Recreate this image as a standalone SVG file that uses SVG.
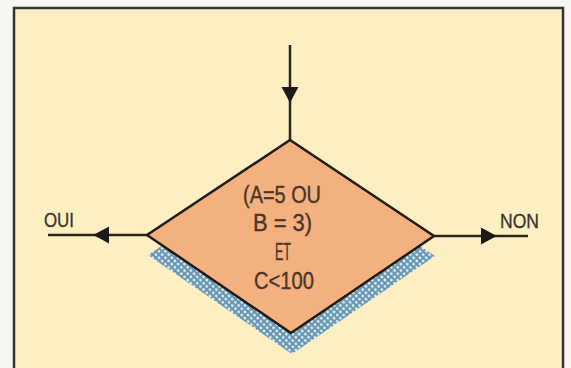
<svg xmlns="http://www.w3.org/2000/svg" width="571" height="368" viewBox="0 0 571 368">
  <style>
    .line { fill: none; stroke: #2a2420; stroke-width: 2.5; }
    .txt { font-family: "Liberation Sans", Arial, sans-serif; fill: #4a3426; stroke: #4a3426; stroke-width: 0.35; }
    .cond { font-size: 23px; }
    .lbl { font-size: 21px; fill: #3a3430; stroke: #3a3430; }
  </style>
  <defs>
    <pattern id="mesh" patternUnits="userSpaceOnUse" width="4.5" height="4.5" patternTransform="rotate(45)">
      <rect width="4.5" height="4.5" fill="#6596b6"/>
      <circle cx="2.25" cy="2.25" r="1.45" fill="#e6efea"/>
    </pattern>
    <marker id="head" markerUnits="userSpaceOnUse" markerWidth="18" markerHeight="18" refX="16" refY="8.5" orient="auto">
      <path d="M0,0 Q9,5 16,8.5 Q9,12 0,17 Z" fill="#1e1a18"/>
    </marker>
  </defs>

  <rect x="0" y="0" width="571" height="368" fill="#f7f6f1"/>
  <rect id="frame" x="14" y="8" width="549" height="372" fill="#fcf0c2" stroke="#333" stroke-width="2.5"/>

  <g id="connectors">
    <path class="line" d="M290,45 L290,103 L290,140" marker-mid="url(#head)"/>
    <path class="line" d="M147,235 L93,235 L48,235" marker-mid="url(#head)"/>
    <path class="line" d="M434,236 L497,236 L528,236" marker-mid="url(#head)"/>
    <text class="txt lbl" x="44" y="227" textLength="30" lengthAdjust="spacingAndGlyphs">OUI</text>
    <text class="txt lbl" x="500" y="228" textLength="39" lengthAdjust="spacingAndGlyphs">NON</text>
  </g>

  <g id="decision">
    <polygon points="148,255 291,160 435,256 292,354" fill="url(#mesh)"/>
    <polygon points="147,235 290,140 434,236 291,333" fill="#f2b17f" stroke="#221a14" stroke-width="2.5" stroke-linejoin="miter"/>
    <text class="txt cond" x="243" y="203" textLength="78" lengthAdjust="spacingAndGlyphs">(A=5 OU</text>
    <text class="txt cond" x="253" y="231" textLength="59" lengthAdjust="spacingAndGlyphs">B = 3)</text>
    <text class="txt cond" x="275" y="260" textLength="16" lengthAdjust="spacingAndGlyphs">ET</text>
    <text class="txt cond" x="254" y="289" textLength="60" lengthAdjust="spacingAndGlyphs">C&lt;100</text>
  </g>
</svg>
